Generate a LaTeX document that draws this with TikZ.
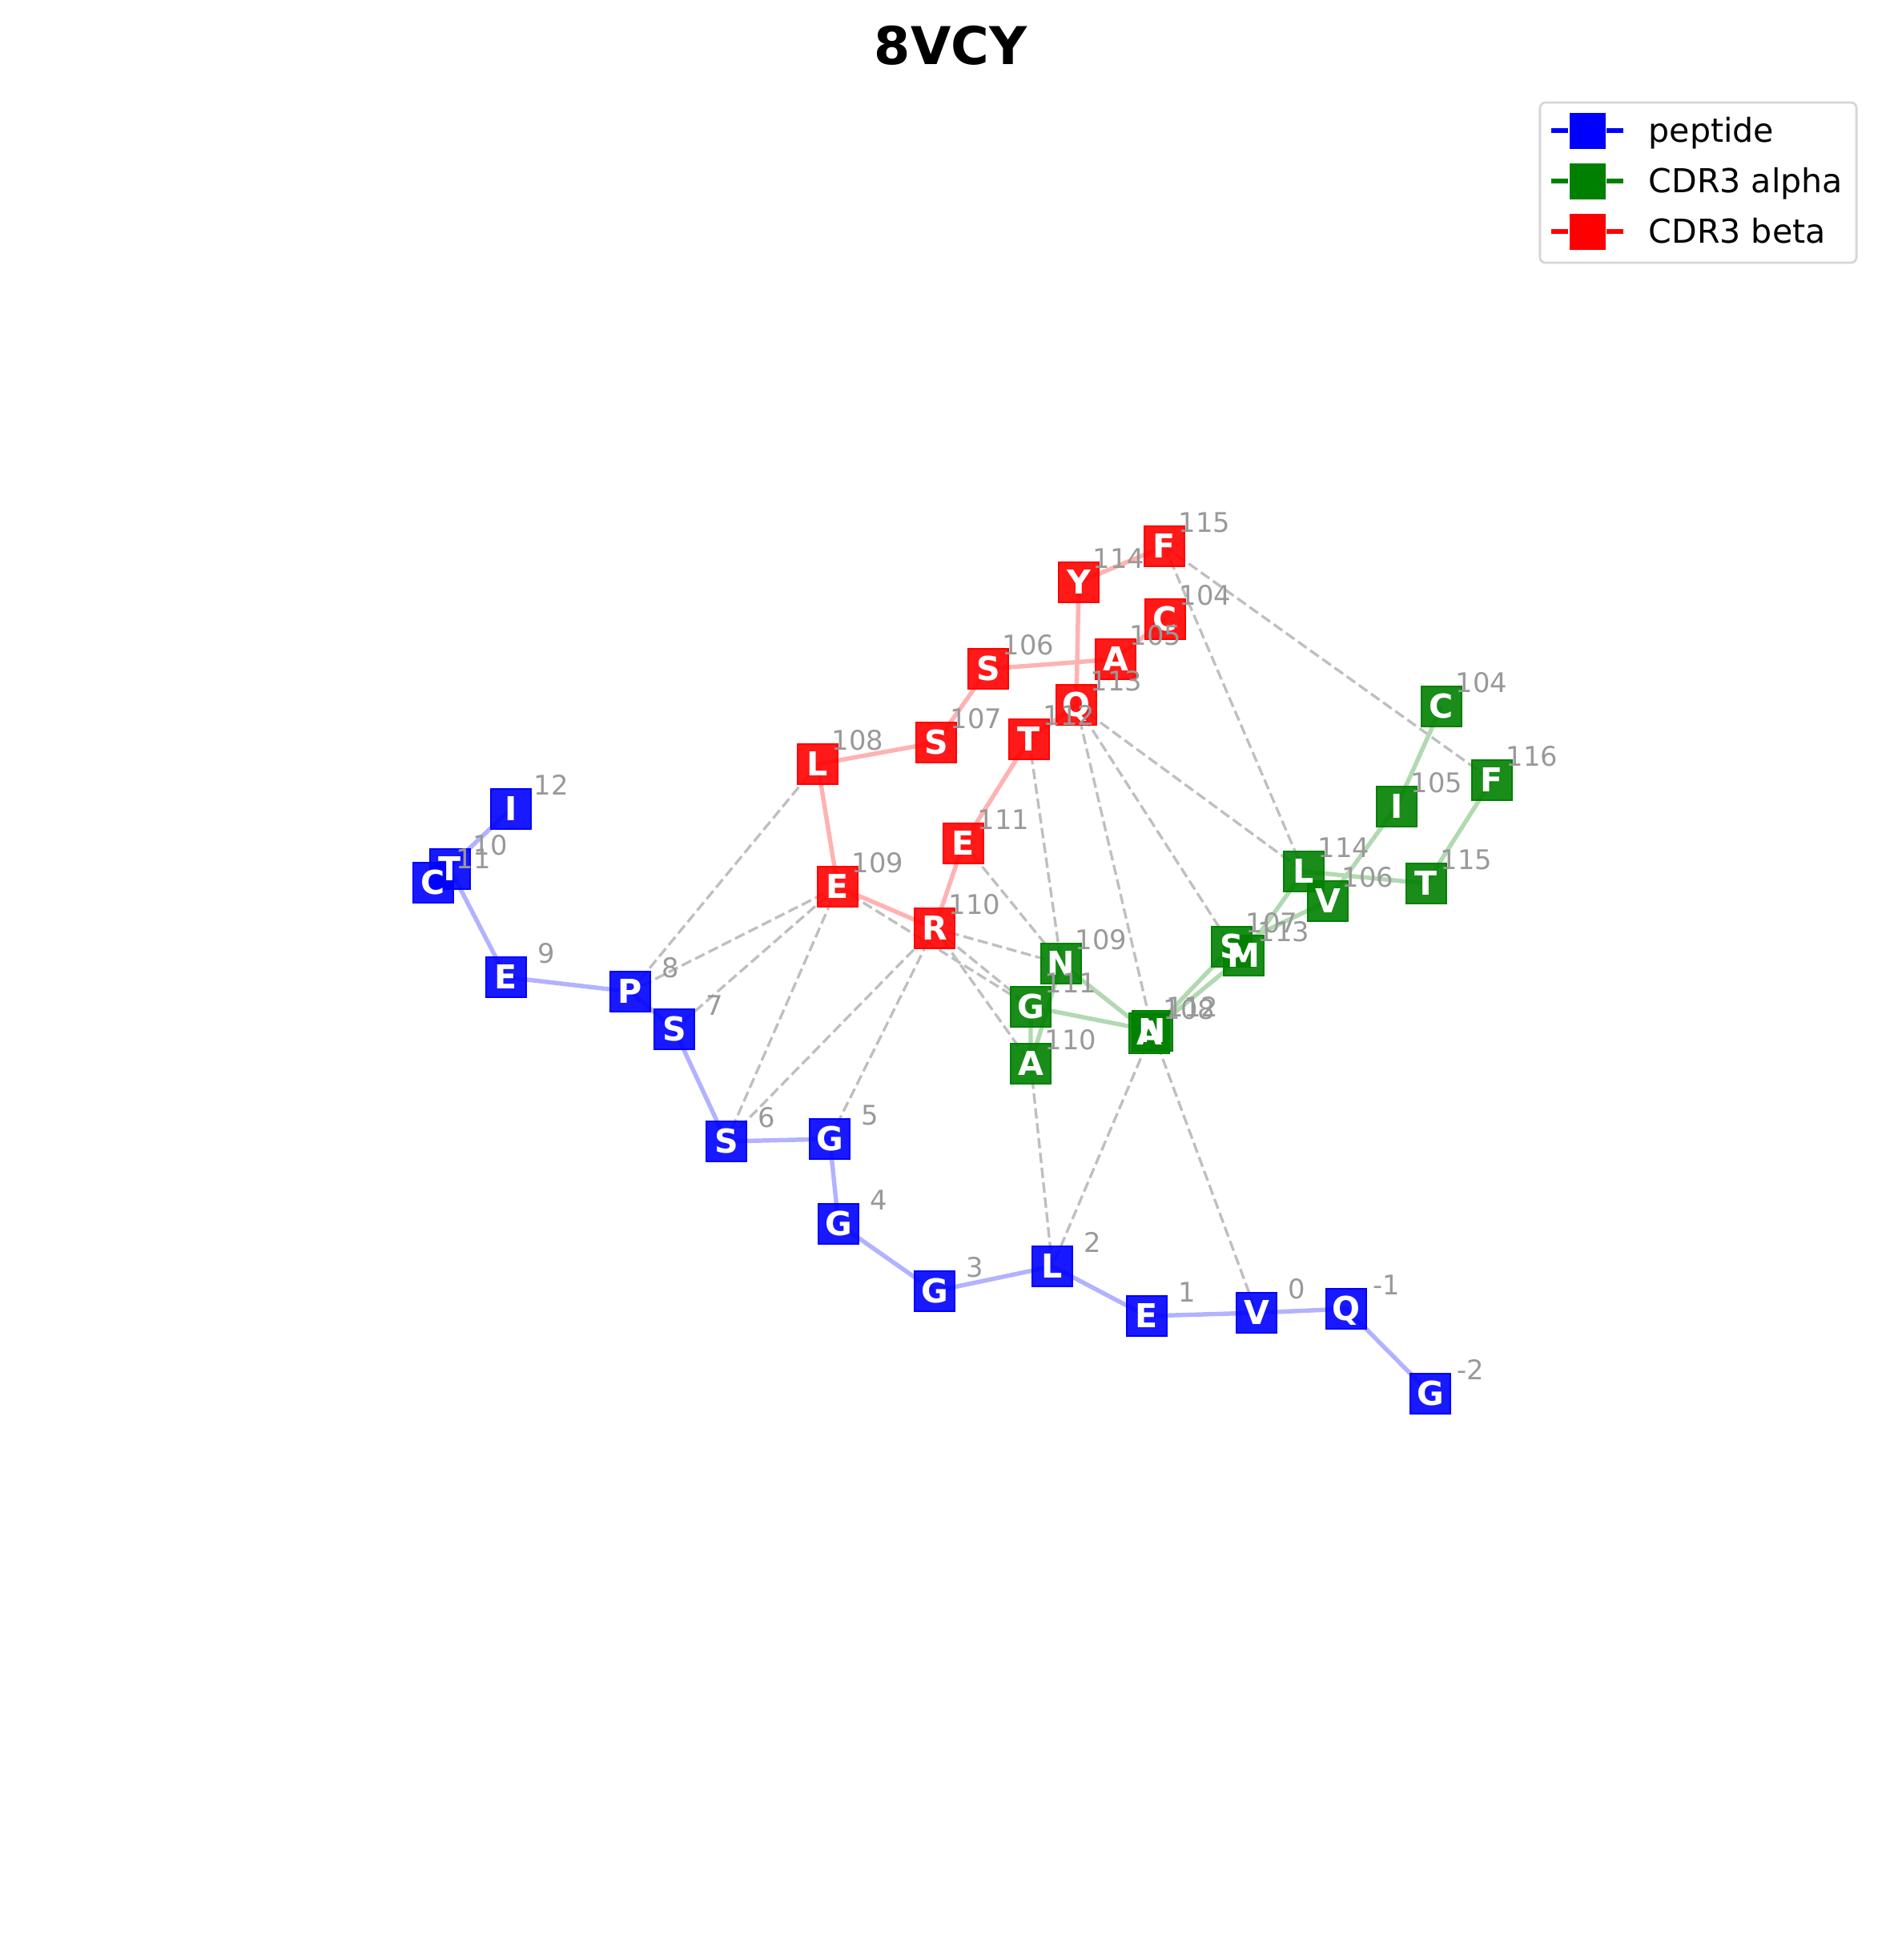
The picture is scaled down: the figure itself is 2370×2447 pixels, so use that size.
\documentclass[tikz,border=0pt]{standalone}
\usepackage{fontspec}
\setmainfont{DejaVu Sans}
\usepackage{tikz}
\definecolor{pepblue}{RGB}{0,0,255}
\definecolor{cdrgreen}{RGB}{0,128,0}
\definecolor{cdrred}{RGB}{255,0,0}
\definecolor{numgray}{HTML}{999999}
\definecolor{contactgray}{HTML}{BFBFBF}
\definecolor{legendgray}{HTML}{D6D6D6}

\def\peplist{pm2/G, pm1/Q, p0/V, p1/E, p2/L, p3/G, p4/G, p5/G, p6/S, p7/S,
  p8/P, p9/E, p10/T, p11/C, p12/I}
\def\betalist{b104/C, b105/A, b106/S, b107/S, b108/L, b109/E, b110/R, b111/E,
  b112/T, b113/Q, b114/Y, b115/F}
\def\alphalist{a104/C, a105/I, a106/V, a107/S, a108/A, a109/N, a110/A, a111/G,
  a112/N, a113/M, a114/L, a115/T, a116/F}

\begin{document}
\begin{tikzpicture}[x=0.01cm, y=-0.01cm,
  res/.style={draw, line width=0.8pt, minimum size=0.5cm, inner sep=0pt,
    fill opacity=0.9},
  pep/.style={res, draw=pepblue, fill=pepblue},
  cdra/.style={res, draw=cdrgreen, fill=cdrgreen},
  cdrb/.style={res, draw=cdrred, fill=cdrred},
  letter/.style={inner sep=0pt, text=white, text height=8.5pt, text depth=0pt,
    font=\fontsize{11.7}{12}\selectfont\bfseries},
  num/.style={anchor=center, inner sep=0pt, xshift=0.50cm, yshift=0.30cm,
    text height=7pt, text depth=0pt, text=numgray, font=\fontsize{9.6}{10}\selectfont},
  contact/.style={contactgray, line width=0.95pt, dash pattern=on 3.7pt off 1.6pt},
  chain/.style={line width=1.55pt, line join=round},
  legline/.style={line width=1.7pt},
  legmark/.style={minimum size=0.46cm, inner sep=0pt, draw=white, line width=0.3pt},
  legtext/.style={anchor=base west, inner sep=0pt, font=\fontsize{11.7}{12}\selectfont}]
  \useasboundingbox (0,0) rectangle (2370,2447);

  % --- title ---
  \node[inner sep=0pt, font=\fontsize{18.5}{20}\selectfont\bfseries] (title) at (1187,57) {8VCY};

  % --- residue positions ---
  \coordinate (cpm2) at (1786,1740); \coordinate (cpm1) at (1681,1634);
  \coordinate (cp0) at (1569,1639);  \coordinate (cp1) at (1432,1643);
  \coordinate (cp2) at (1314,1581);  \coordinate (cp3) at (1167,1612);
  \coordinate (cp4) at (1047,1528);  \coordinate (cp5) at (1036,1422);
  \coordinate (cp6) at (907,1425);   \coordinate (cp7) at (842,1285);
  \coordinate (cp8) at (787,1238);   \coordinate (cp9) at (632,1220);
  \coordinate (cp10) at (562,1085);  \coordinate (cp11) at (541,1102);
  \coordinate (cp12) at (638,1010);

  \coordinate (cb104) at (1455,773); \coordinate (cb105) at (1393,823);
  \coordinate (cb106) at (1234,835); \coordinate (cb107) at (1169,927);
  \coordinate (cb108) at (1021,954); \coordinate (cb109) at (1046,1107);
  \coordinate (cb110) at (1167,1159);\coordinate (cb111) at (1203,1053);
  \coordinate (cb112) at (1285,923); \coordinate (cb113) at (1344,880);
  \coordinate (cb114) at (1347,727); \coordinate (cb115) at (1454,682);

  \coordinate (ca104) at (1800,882); \coordinate (ca105) at (1744,1007);
  \coordinate (ca106) at (1658,1125);\coordinate (ca107) at (1538,1182);
  \coordinate (ca108) at (1435,1290);\coordinate (ca109) at (1325,1203);
  \coordinate (ca110) at (1287,1328);\coordinate (ca111) at (1287,1257);
  \coordinate (ca112) at (1439,1287);\coordinate (ca113) at (1553,1193);
  \coordinate (ca114) at (1628,1088);\coordinate (ca115) at (1781,1103);
  \coordinate (ca116) at (1863,974);

  % --- contacts ---
  \draw[contact] (cb115) -- (ca116);
  \draw[contact] (cb115) -- (ca114);
  \draw[contact] (cb113) -- (ca114);
  \draw[contact] (cb113) -- (ca107);
  \draw[contact] (cb113) -- (ca112);
  \draw[contact] (cb112) -- (ca109);
  \draw[contact] (cb111) -- (ca109);
  \draw[contact] (cb110) -- (ca109);
  \draw[contact] (cb110) -- (ca111);
  \draw[contact] (cb109) -- (ca111);
  \draw[contact] (cb110) -- (ca110);
  \draw[contact] (cb110) -- (cp6);
  \draw[contact] (cb110) -- (cp5);
  \draw[contact] (cb109) -- (cp8);
  \draw[contact] (cb109) -- (cp7);
  \draw[contact] (cb109) -- (cp6);
  \draw[contact] (cb108) -- (cp8);
  \draw[contact] (ca110) -- (cp2);
  \draw[contact] (ca112) -- (cp2);
  \draw[contact] (ca112) -- (cp0);

  % --- chains ---
  \draw[chain, pepblue!30] (cpm2) -- (cpm1) -- (cp0) -- (cp1) -- (cp2) -- (cp3) -- (cp4)
    -- (cp5) -- (cp6) -- (cp7) -- (cp8) -- (cp9) -- (cp10) -- (cp11) -- (cp12);
  \draw[chain, cdrred!30] (cb104) -- (cb105) -- (cb106) -- (cb107) -- (cb108) -- (cb109)
    -- (cb110) -- (cb111) -- (cb112) -- (cb113) -- (cb114) -- (cb115);
  \draw[chain, cdrgreen!30] (ca104) -- (ca105) -- (ca106) -- (ca107) -- (ca108) -- (ca109)
    -- (ca110) -- (ca111) -- (ca112) -- (ca113) -- (ca114) -- (ca115) -- (ca116);

  % --- boxes ---
  \foreach \n/\a in \peplist \node[pep] (\n) at (c\n) {};
  \foreach \n/\a in \betalist \node[cdrb] (\n) at (c\n) {};
  \foreach \n/\a in \alphalist \node[cdra] (\n) at (c\n) {};

  % --- one-letter codes ---
  \foreach \n/\a in \peplist \node[letter] (t\n) at (\n) {\a};
  \foreach \n/\a in \betalist \node[letter] (t\n) at (\n) {\a};
  \foreach \n/\a in \alphalist \node[letter] (t\n) at (\n) {\a};

  % --- residue numbers ---
  \foreach \n/\t in {pm2/-2, pm1/-1, p0/0, p1/1, p2/2, p3/3, p4/4, p5/5, p6/6, p7/7,
                     p8/8, p9/9, p10/10, p11/11, p12/12,
                     b104/104, b105/105, b106/106, b107/107, b108/108, b109/109,
                     b110/110, b111/111, b112/112, b113/113, b114/114, b115/115,
                     a104/104, a105/105, a106/106, a107/107, a108/108, a109/109,
                     a110/110, a111/111, a112/112, a113/113, a114/114, a115/115,
                     a116/116}
    \node[num] (lbl\n) at (\n) {\t};

  % --- legend ---
  \node[draw=legendgray, line width=0.8pt, rounded corners=0.07cm, inner sep=0pt,
        minimum width=3.95cm, minimum height=2.0cm] (legend) at (2120.5,228) {};
  \coordinate (legpep) at (1982,163);
  \coordinate (legalpha) at (1982,226);
  \coordinate (legbeta) at (1982,289);
  \draw[legline, pepblue] ([xshift=-0.45cm]legpep) -- ([xshift=0.45cm]legpep);
  \draw[legline, cdrgreen] ([xshift=-0.45cm]legalpha) -- ([xshift=0.45cm]legalpha);
  \draw[legline, cdrred] ([xshift=-0.45cm]legbeta) -- ([xshift=0.45cm]legbeta);
  \node[legmark, fill=pepblue] (legpepbox) at (legpep) {};
  \node[legmark, fill=cdrgreen] (legalphabox) at (legalpha) {};
  \node[legmark, fill=cdrred] (legbetabox) at (legbeta) {};
  \node[legtext] (legpeptxt) at (2058,177) {peptide};
  \node[legtext] (legalphatxt) at (2058,240) {CDR3 alpha};
  \node[legtext] (legbetatxt) at (2058,303) {CDR3 beta};
\end{tikzpicture}
\end{document}
